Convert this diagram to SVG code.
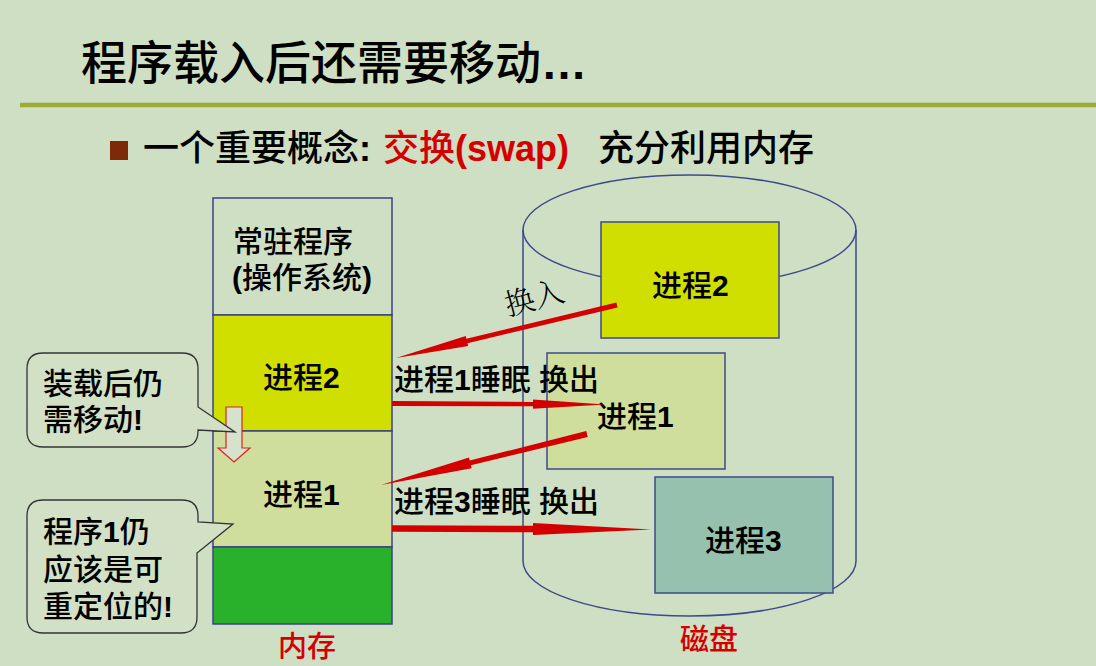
<svg xmlns="http://www.w3.org/2000/svg" width="1096" height="666" viewBox="0 0 1096 666">
  <style>
    .txt { font-family: "Liberation Sans", "Noto Sans CJK SC", sans-serif; fill: #000; font-weight: 500; }
    .b { font-weight: bold; }
    .red { fill: #D40000; }
    .mem { stroke: #3C4186; stroke-width: 1.5; }
    .disk { stroke: #3E4A8C; stroke-width: 1.5; }
    .callout { fill: #D2E0C6; stroke: #333; stroke-width: 1.3; }
    .arrow { fill: #D40000; }
  </style>

  <!-- slide background -->
  <rect x="0" y="0" width="1096" height="666" fill="#CFDFC4"/>

  <!-- title and rule -->
  <text class="txt" x="81" y="79" font-size="46">程序载入后还需要移动<tspan class="b">…</tspan></text>
  <line x1="20" y1="105" x2="1096" y2="105" stroke="#9DAA38" stroke-width="4.5"/>

  <!-- bullet line -->
  <rect x="110" y="141" width="18" height="19" fill="#7E2A08"/>
  <text class="txt" x="143" y="161" font-size="36">一个重要概念<tspan class="b">:</tspan></text>
  <text class="txt red" x="383" y="161" font-size="36">交换<tspan class="b">(swap)</tspan></text>
  <text class="txt" x="598" y="161" font-size="36">充分利用内存</text>

  <!-- disk cylinder -->
  <g id="disk">
    <ellipse cx="689.5" cy="230" rx="166.5" ry="55" fill="none" class="disk"/>
    <path d="M523,230 V561 A166.5,55 0 0 0 856,561 V230" fill="none" class="disk"/>
    <text class="txt red" x="680" y="650" font-size="29">磁盘</text>
  </g>

  <!-- memory column -->
  <g id="memory">
    <rect x="213" y="198" width="179" height="117" fill="#CFDFC4" class="mem"/>
    <text class="txt" x="233" y="252" font-size="30">常驻程序</text>
    <text class="txt" x="232" y="288" font-size="30"><tspan class="b">(</tspan>操作系统<tspan class="b">)</tspan></text>
    <rect x="213" y="315" width="179" height="116" fill="#D0DF00" class="mem"/>
    <text class="txt" x="263" y="388" font-size="30">进程<tspan class="b">2</tspan></text>
    <rect x="213" y="431" width="179" height="116" fill="#CFDE9D" class="mem"/>
    <text class="txt" x="263" y="505" font-size="30">进程<tspan class="b">1</tspan></text>
    <rect x="213" y="547" width="179" height="77" fill="#2AB12B" class="mem"/>
    <text class="txt red" x="278" y="657" font-size="29">内存</text>
  </g>

  <!-- processes on disk -->
  <g id="disk-p2">
    <rect x="601" y="222" width="178" height="116" fill="#D0DF00" class="disk"/>
    <text class="txt" x="652" y="296" font-size="30">进程<tspan class="b">2</tspan></text>
  </g>
  <g id="disk-p1">
    <rect x="547" y="353" width="178" height="116" fill="#CFDE9D" class="disk"/>
    <text class="txt" x="597" y="427" font-size="30">进程<tspan class="b">1</tspan></text>
  </g>
  <g id="disk-p3">
    <rect x="655" y="477" width="178" height="116" fill="#96C1AE" class="disk"/>
    <text class="txt" x="705" y="551" font-size="30">进程<tspan class="b">3</tspan></text>
  </g>

  <!-- relocation hint arrow -->
  <g id="move-arrow">
    <path d="M226,407 H242 V448 H250 L234,462 L218,448 H226 Z" fill="#D6E2CC" stroke="#E02020" stroke-width="1.2"/>
  </g>

  <!-- callouts -->
  <g id="callout-move">
    <path class="callout" d="M43,353 H182 Q198,353 198,369 V407 L235,432 L198,430 V431 Q198,447 182,447 H43 Q27,447 27,431 V369 Q27,353 43,353 Z"/>
    <text class="txt" x="43" y="394" font-size="30">装载后仍</text>
    <text class="txt" x="43" y="430" font-size="30">需移动<tspan class="b">!</tspan></text>
  </g>
  <g id="callout-reloc">
    <path class="callout" d="M43,500 H182 Q198,500 198,516 V522 L233,524 L197,553 V617 Q197,633 181,633 H43 Q27,633 27,617 V516 Q27,500 43,500 Z"/>
    <text class="txt" x="43" y="542" font-size="30">程序<tspan class="b">1</tspan>仍</text>
    <text class="txt" x="43" y="580" font-size="30">应该是可</text>
    <text class="txt" x="43" y="617" font-size="30">重定位的<tspan class="b">!</tspan></text>
  </g>

  <!-- swap connectors -->
  <g id="connectors">
    <!-- swap in: disk P2 -> memory -->
    <polygon class="arrow" transform="translate(617,305) rotate(166.5)" points="0,-2.5 154.3,-2.3 154.3,-5.2 227.3,0 154.3,5.2 154.3,2.3 0,2.5"/>
    <!-- swap out: memory P1 -> disk -->
    <polygon class="arrow" transform="translate(392,403.5) rotate(0.27)" points="0,-2.4 141,-2.2 141,-4.6 213,0 141,4.6 141,2.2 0,2.4"/>
    <!-- disk P1 -> memory -->
    <polygon class="arrow" transform="translate(587,434) rotate(166.1)" points="0,-3 120.2,-2.4 120.2,-5.6 212.2,0 120.2,5.6 120.2,2.4 0,3"/>
    <!-- swap out: memory P3 -> disk -->
    <polygon class="arrow" transform="translate(392,528.5) rotate(0.22)" points="0,-3.2 141,-3.2 141,-6 259,0 141,6 141,3.2 0,3.2"/>
  </g>

  <!-- connector labels -->
  <text class="txt" x="508" y="316" font-size="30" transform="rotate(-15 508 316)" style="font-family: 'Noto Serif CJK SC', 'Noto Sans CJK SC', serif; font-weight: 300;">换入</text>
  <text class="txt" x="394" y="390" font-size="30">进程<tspan class="b">1</tspan>睡眠 换出</text>
  <text class="txt" x="394" y="512" font-size="30">进程<tspan class="b">3</tspan>睡眠 换出</text>
</svg>
